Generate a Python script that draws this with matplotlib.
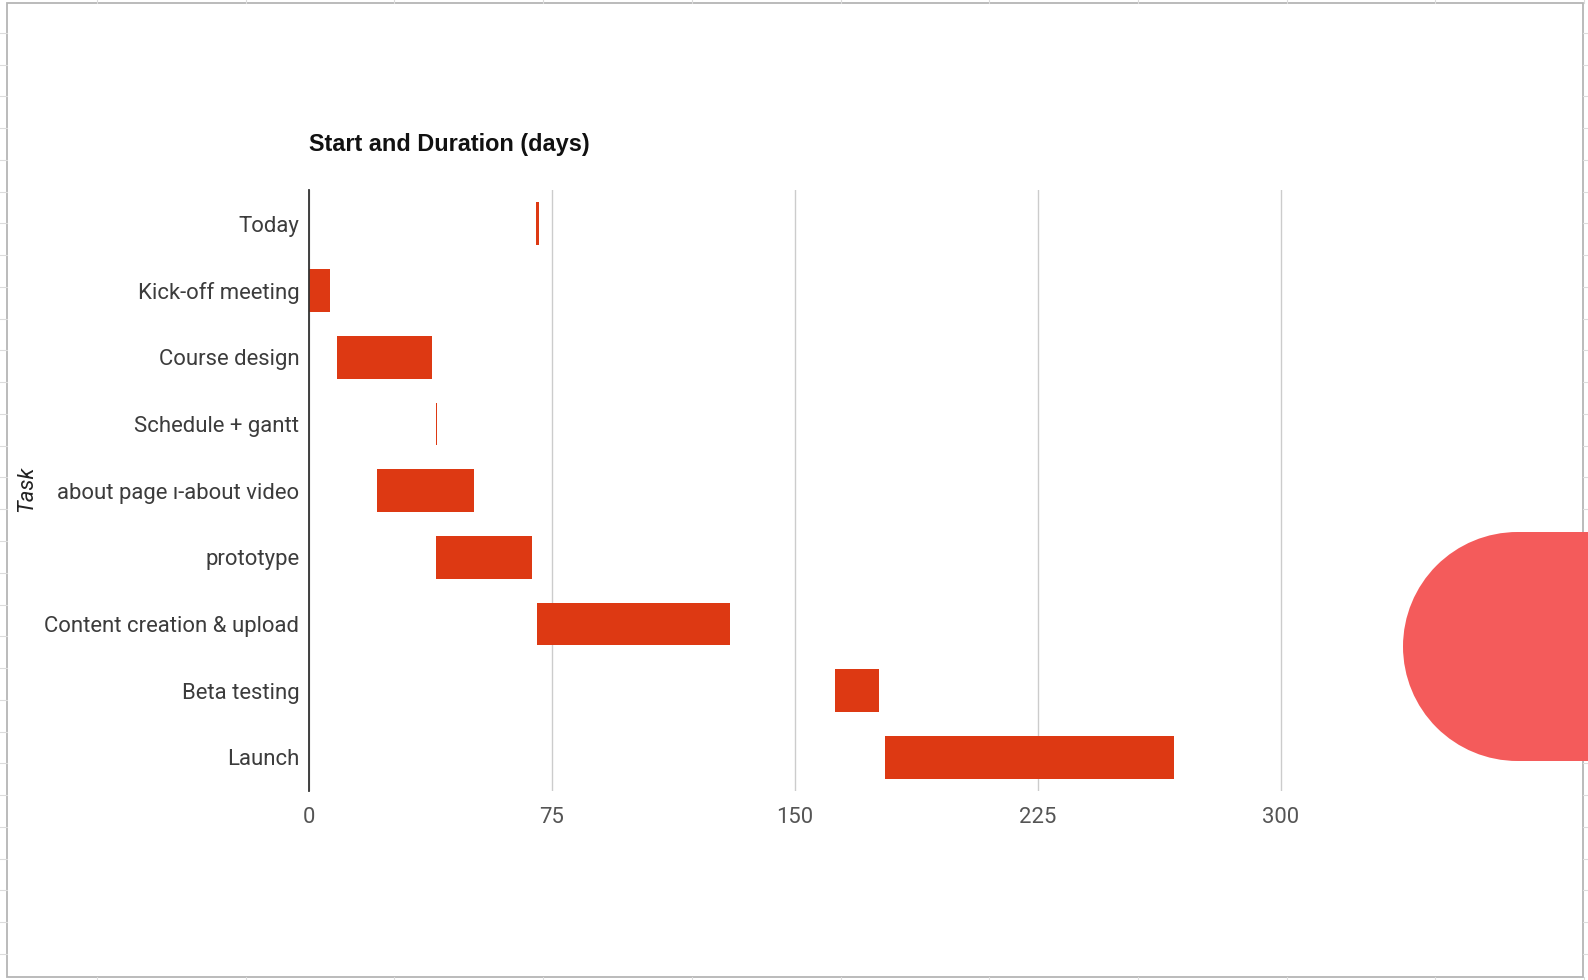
import matplotlib
matplotlib.use("Agg")
import matplotlib.pyplot as plt
from matplotlib.lines import Line2D
from matplotlib.patches import Rectangle, Circle
from matplotlib.transforms import IdentityTransform

# ---- data ----
tasks = ["Today", "Kick-off meeting", "Course design", "Schedule + gantt",
         "about page ı-about video", "prototype", "Content creation & upload",
         "Beta testing", "Launch"]
starts = [70, 0, 8.5, 39.3, 21, 39.3, 70.3, 162.2, 177.8]
durations = [1, 6.6, 29.5, 0.35, 30, 29.4, 59.7, 13.8, 89.1]
x_ticks = [0, 75, 150, 225, 300]
title = "Start and Duration (days)"
y_label = "Task"

W, H = 1588, 980
DPI = 100
plt.rcParams['font.family'] = ['Roboto', 'DejaVu Sans']

fig = plt.figure(figsize=(W / DPI, H / DPI), dpi=DPI)
fig.patch.set_facecolor("white")

# spreadsheet background stubs
stub_c = "#dcdcdc"
y = 33.0
while y < H:
    for x0, x1 in [(0, 6.7), (1583.3, W)]:
        fig.add_artist(Line2D([x0 / W, x1 / W], [1 - y / H, 1 - y / H],
                              color=stub_c, lw=0.8))
    y += 31.75
x = 97.0
while x < W:
    for y0, y1 in [(0, 2.7), (977.3, H)]:
        fig.add_artist(Line2D([x / W, x / W], [1 - y0 / H, 1 - y1 / H],
                              color=stub_c, lw=0.8))
    x += 148.7

# chart border
fig.add_artist(Rectangle((6.7 / W, 1 - 977.3 / H), (1583.3 - 6.7) / W,
                         (977.3 - 2.7) / H, transform=fig.transFigure,
                         fill=False, edgecolor="#b5b5b5", lw=1.3))

# axes
unit = 3.24
xmax = 302
left, top, bottom = 309, 190.4, 790.8
right = left + xmax * unit
ax = fig.add_axes([left / W, 1 - bottom / H, (right - left) / W, (bottom - top) / H])
bar_color = "#dd3913"
ypos = list(range(len(tasks)))
ax.barh(ypos, durations, left=starts, height=0.64, color=bar_color, linewidth=0, zorder=3)
ax.set_ylim(len(tasks) - 0.5, -0.5)
ax.set_xlim(0, xmax)
ax.set_yticks(ypos)
ax.set_yticklabels(tasks, fontsize=15.9, color="#3c3c3c")
ax.set_xticks(x_ticks)
ax.set_xticklabels([str(t) for t in x_ticks], fontsize=15.9, color="#555555")
ax.tick_params(axis="y", length=0, pad=7)
ax.tick_params(axis="x", length=0, pad=12)
for s in ["top", "right", "bottom"]:
    ax.spines[s].set_visible(False)
ax.spines["left"].set_color("#333333")
ax.spines["left"].set_linewidth(1.3)
ax.spines["left"].set_zorder(4)
ax.grid(axis="x", color="#cccccc", lw=1.0, zorder=0)
ax.set_axisbelow(True)
ax.set_facecolor("none")

# title and axis label
fig.text(left / W, 1 - 144.5 / H, title, fontsize=16.9, fontweight="bold",
         family=["Liberation Sans", "DejaVu Sans"],
         color="#111111", ha="left", va="center")
fig.text(27 / W, 1 - 489 / H, y_label, fontsize=15.9, fontstyle="italic",
         color="#222222", rotation=90, ha="center", va="center")

# pink decorative shape (stadium cut off at right edge)
r = 114.5
cx, cy = 1403 + r, H - 646.5
pink = "#f45b5b"
fig.add_artist(Circle((cx, cy), r, transform=IdentityTransform(),
                      facecolor=pink, edgecolor="none", zorder=10))
fig.add_artist(Rectangle((cx, cy - r), 300, 2 * r, transform=IdentityTransform(),
                         facecolor=pink, edgecolor="none", zorder=10))

fig.savefig("out.png", dpi=DPI, facecolor="white")
